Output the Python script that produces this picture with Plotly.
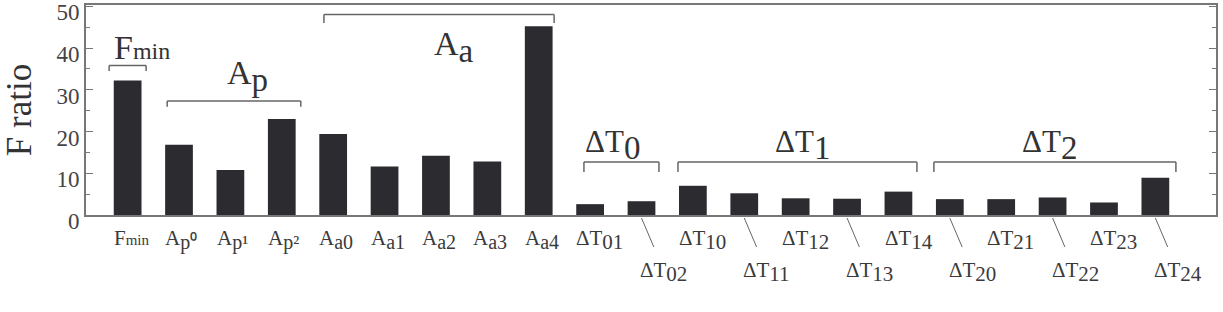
import plotly.graph_objects as go

# ---- data ----
categories = ["Fmin", "Ap0", "Ap1", "Ap2", "Aa0", "Aa1", "Aa2", "Aa3", "Aa4",
              "dT01", "dT02", "dT10", "dT11", "dT12", "dT13", "dT14",
              "dT20", "dT21", "dT22", "dT23", "dT24"]
f_ratio = [32.2, 16.8, 10.8, 23.0, 19.4, 11.6, 14.2, 12.8, 45.2,
           2.6, 3.3, 7.0, 5.2, 4.0, 3.9, 5.6,
           3.8, 3.8, 4.2, 3.0, 8.9]
tick_labels = ["F<span style='font-size:15px'>min</span>",
               "A<sub><span style='font-size:20px'>p⁰</span></sub>",
               "A<sub><span style='font-size:20px'>p¹</span></sub>",
               "A<sub><span style='font-size:20px'>p²</span></sub>",
               "A<sub><span style='font-size:20px'>a0</span></sub>",
               "A<sub><span style='font-size:20px'>a1</span></sub>",
               "A<sub><span style='font-size:20px'>a2</span></sub>",
               "A<sub><span style='font-size:20px'>a3</span></sub>",
               "A<sub><span style='font-size:20px'>a4</span></sub>",
               "ΔT<sub><span style='font-size:21px'>01</span></sub>",
               "ΔT<sub><span style='font-size:21px'>02</span></sub>",
               "ΔT<sub><span style='font-size:21px'>10</span></sub>",
               "ΔT<sub><span style='font-size:21px'>11</span></sub>",
               "ΔT<sub><span style='font-size:21px'>12</span></sub>",
               "ΔT<sub><span style='font-size:21px'>13</span></sub>",
               "ΔT<sub><span style='font-size:21px'>14</span></sub>",
               "ΔT<sub><span style='font-size:21px'>20</span></sub>",
               "ΔT<sub><span style='font-size:21px'>21</span></sub>",
               "ΔT<sub><span style='font-size:21px'>22</span></sub>",
               "ΔT<sub><span style='font-size:21px'>23</span></sub>",
               "ΔT<sub><span style='font-size:21px'>24</span></sub>"]
label_rows = [1, 1, 1, 1, 1, 1, 1, 1, 1,
              1, 2, 1, 2, 1, 2, 1,
              2, 1, 2, 1, 2]
group_labels = ["F<span style='font-size:24px'>min</span>",
                "A<sub><span style='font-size:33px'>p</span></sub>",
                "A<sub><span style='font-size:33px'>a</span></sub>",
                "ΔT<sub><span style='font-size:33px'>0</span></sub>",
                "ΔT<sub><span style='font-size:33px'>1</span></sub>",
                "ΔT<sub><span style='font-size:33px'>2</span></sub>"]
y_ticks = [0, 10, 20, 30, 40, 50]

FONT = "Liberation Serif, Times New Roman, serif"
BAR = "#2b2b30"
GREY = "#666666"
TXT = "#3a3a3a"

fig = go.Figure(go.Bar(x=categories, y=f_ratio, width=0.54,
                       marker=dict(color=BAR, line=dict(width=0))))

TOP, BOT = 5, 215
def py(p):
    return (BOT - p) / (BOT - TOP)

ann = []
shapes = []
for i, (lab, row) in enumerate(zip(tick_labels, label_rows)):
    if row == 1:
        ann.append(dict(x=i - 0.27, y=py(224), xref="x", yref="paper",
                        text=lab, showarrow=False, xanchor="left", yanchor="top",
                        font=dict(family=FONT, size=21, color=TXT), xshift=-2))
    else:
        ann.append(dict(x=i, y=py(256), xref="x", yref="paper",
                        text=lab, showarrow=False, xanchor="left", yanchor="top",
                        font=dict(family=FONT, size=21, color=TXT), xshift=-3))
        shapes.append(dict(type="line", xref="x", yref="paper",
                           x0=i, x1=i + 0.24, y0=py(218), y1=py(247),
                           line=dict(color=GREY, width=1)))

br_left = [-0.36, 0.77, 3.82, 8.88, 10.71, 15.69]
br_right = [0.36, 3.37, 8.30, 10.34, 15.36, 20.40]
br_top = [35.8, 27.3, 48.0, 12.7, 12.7, 12.7]
br_bot = [34.5, 25.9, 46.0, 10.3, 10.3, 10.3]
lab_x = [-0.30, 1.90, 5.92, 8.86, 12.56, 17.36]
lab_y = [27, 52, 23, 122, 122, 122]
lab_size = [34, 34, 34, 31, 31, 31]
for k in range(len(group_labels)):
    for (xa, ya, xb, yb) in [(br_left[k], br_bot[k], br_left[k], br_top[k]),
                             (br_left[k], br_top[k], br_right[k], br_top[k]),
                             (br_right[k], br_top[k], br_right[k], br_bot[k])]:
        shapes.append(dict(type="line", xref="x", yref="y", x0=xa, y0=ya, x1=xb, y1=yb,
                           line=dict(color=GREY, width=1.5)))
    ann.append(dict(x=lab_x[k], y=py(lab_y[k]), xref="x", yref="paper",
                    text=group_labels[k], showarrow=False, xanchor="left", yanchor="top",
                    font=dict(family=FONT, size=lab_size[k], color="#333333")))

fig.update_layout(
    width=1223, height=312,
    margin=dict(l=86, r=7, t=TOP, b=312 - BOT, autoexpand=False),
    paper_bgcolor="white", plot_bgcolor="white",
    showlegend=False,
    font=dict(family=FONT, color=TXT),
    annotations=ann, shapes=shapes,
    xaxis=dict(type="category", range=[-0.81, 21.18], showticklabels=False,
               ticks="", showgrid=False, zeroline=False, automargin=False,
               showline=True, linecolor="#777777", linewidth=2, mirror=True),
    yaxis=dict(range=[0, 50.3], tickvals=y_ticks, ticks="inside", ticklen=7,
               tickcolor="#777777", tickwidth=1, automargin=False,
               minor=dict(dtick=5, tick0=0, ticks="inside", ticklen=4,
                          tickcolor="#777777", showgrid=False),
               showgrid=False, zeroline=False,
               showline=True, linecolor="#777777", linewidth=2, mirror="ticks",
               ticklabeloverflow="allow", ticklabelshift=6,
               tickfont=dict(family=FONT, size=23, color="#444444"),
               title=dict(text="F ratio", standoff=14,
                          font=dict(family=FONT, size=35, color="#333333"))),
)

fig.write_html("out.html")
